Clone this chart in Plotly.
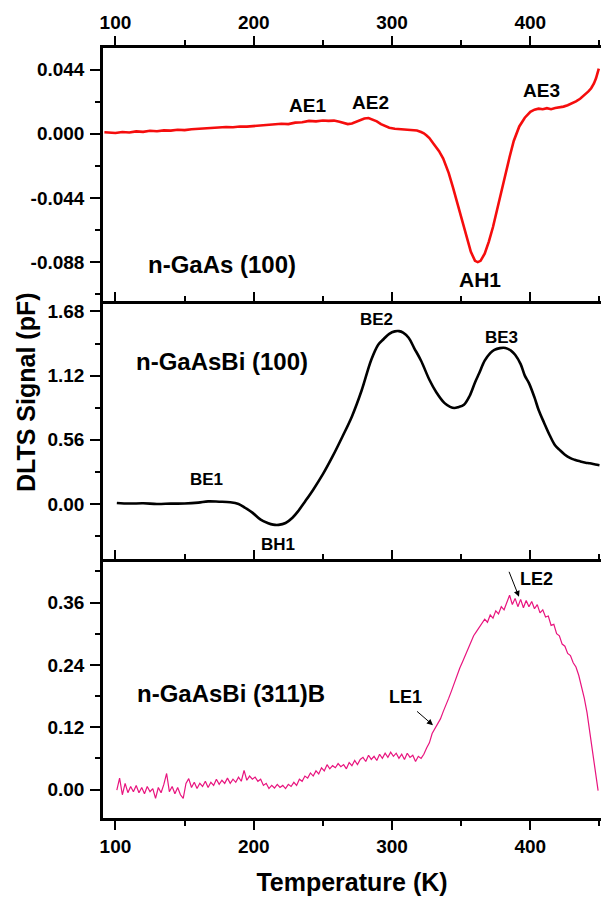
import plotly.graph_objects as go

# ---------------- data ----------------
# Panel 1: n-GaAs (100)
t_gaas = [92, 100, 105, 110, 115, 120, 125, 130, 135, 140, 145, 150, 155, 160, 165, 170, 175, 180,
          185, 190, 195, 200, 205, 210, 215, 220, 225, 230, 235, 240, 245, 250, 254, 258, 262, 265,
          268, 271, 274, 277, 280, 283, 286, 289, 292, 295, 298, 302, 306, 310, 314, 318, 321, 323,
          325, 327, 330, 334, 337, 341, 344, 348, 351, 354, 357, 360, 362, 364, 367, 370, 373, 376,
          379, 382, 385, 388, 392, 396, 400, 403, 406, 409, 412, 415, 418, 421, 424, 427, 430, 433,
          436, 439, 442, 444, 446, 447.5, 448.5, 449.5]
v_gaas = [0.0010, 0.0005, 0.0012, 0.0008, 0.0016, 0.0013, 0.0020, 0.0017, 0.0023, 0.0021, 0.0027,
          0.0025, 0.0031, 0.0034, 0.0036, 0.0041, 0.0039, 0.0046, 0.0044, 0.0050, 0.0049, 0.0053,
          0.0057, 0.0061, 0.0064, 0.0068, 0.0066, 0.0076, 0.0079, 0.0088, 0.0085, 0.0091, 0.0088,
          0.0090, 0.0082, 0.0074, 0.0066, 0.0070, 0.0082, 0.0093, 0.0104, 0.0108, 0.0098, 0.0085,
          0.0066, 0.0052, 0.0041, 0.0034, 0.0031, 0.0030, 0.0027, 0.0022, 0.0012, 0.0003, -0.0012,
          -0.0030, -0.0069, -0.0120, -0.0170, -0.0270, -0.0366, -0.0500, -0.0617, -0.0720, -0.0810,
          -0.0872, -0.0881, -0.0872, -0.0823, -0.0740, -0.0640, -0.0520, -0.0410, -0.0280, -0.0160,
          -0.0050, 0.0050, 0.0110, 0.0150, 0.0165, 0.0172, 0.0168, 0.0175, 0.0168, 0.0176, 0.0180,
          0.0186, 0.0195, 0.0208, 0.0222, 0.0240, 0.0262, 0.0290, 0.0312, 0.0345, 0.0380, 0.0415,
          0.0446]

# Panel 2: n-GaAsBi (100)
t_bi100 = [101, 110, 120, 130, 140, 150, 160, 167, 175, 183, 189, 194, 199, 205, 210, 214, 218, 223,
           228, 232, 237, 243, 250, 257, 264, 271, 278, 285, 290, 294, 298, 302, 305, 308, 312, 316,
           321, 327, 332, 338, 342, 345, 348, 352, 356, 360, 363, 367, 371, 374, 378, 382, 386, 389,
           393, 396, 399, 403, 406, 410, 414, 418, 421, 425, 429, 432, 436, 440, 443, 447, 450]
v_bi100 = [0.009, 0.004, 0.006, 0.000, 0.003, 0.004, 0.012, 0.023, 0.020, 0.015, 0.000, -0.035,
           -0.075, -0.137, -0.165, -0.180, -0.182, -0.166, -0.120, -0.064, 0.020, 0.125, 0.260,
           0.415, 0.585, 0.764, 0.990, 1.259, 1.390, 1.440, 1.485, 1.506, 1.508, 1.495, 1.450,
           1.361, 1.250, 1.084, 0.975, 0.880, 0.848, 0.837, 0.845, 0.866, 0.940, 1.060, 1.140,
           1.250, 1.317, 1.345, 1.360, 1.361, 1.338, 1.302, 1.220, 1.120, 1.055, 0.930, 0.820,
           0.707, 0.600, 0.510, 0.474, 0.430, 0.400, 0.386, 0.372, 0.360, 0.355, 0.345, 0.338]

# Panel 3: n-GaAsBi (311)B  (T = 101, 103, ..., 449 K)
t_bi311 = list(range(101, 450, 2))
v_bi311 = [-0.001, 0.022, -0.010, 0.012, -0.006, 0.006, -0.004, 0.008, -0.006, 0.004,
           -0.008, 0.006, -0.004, 0.002, -0.017, 0.004, -0.006, 0.010, 0.031, -0.004,
           0.006, -0.008, 0.004, -0.010, -0.017, 0.012, 0.021, 0.004, 0.014, 0.002,
           0.012, 0.006, 0.016, 0.004, 0.014, 0.008, 0.020, 0.010, 0.018, 0.012,
           0.022, 0.012, 0.020, 0.014, 0.024, 0.016, 0.037, 0.018, 0.026, 0.020,
           0.024, 0.016, 0.020, 0.008, 0.012, 0.002, 0.008, 0.003, 0.010, 0.004,
           0.008, 0.002, 0.010, 0.006, 0.014, 0.008, 0.020, 0.016, 0.026, 0.022,
           0.032, 0.026, 0.036, 0.030, 0.042, 0.036, 0.048, 0.040, 0.046, 0.042,
           0.050, 0.044, 0.048, 0.040, 0.052, 0.046, 0.056, 0.048, 0.058, 0.062,
           0.054, 0.066, 0.058, 0.064, 0.056, 0.068, 0.060, 0.070, 0.062, 0.072,
           0.064, 0.070, 0.060, 0.068, 0.058, 0.070, 0.062, 0.066, 0.054, 0.064,
           0.060, 0.068, 0.080, 0.090, 0.108, 0.118, 0.128, 0.136, 0.150, 0.162,
           0.176, 0.190, 0.206, 0.218, 0.234, 0.246, 0.258, 0.270, 0.284, 0.296,
           0.304, 0.312, 0.318, 0.328, 0.322, 0.336, 0.330, 0.344, 0.338, 0.352,
           0.346, 0.362, 0.374, 0.356, 0.368, 0.352, 0.366, 0.350, 0.364, 0.352,
           0.362, 0.348, 0.356, 0.340, 0.346, 0.332, 0.334, 0.316, 0.318, 0.300,
           0.296, 0.280, 0.276, 0.262, 0.258, 0.244, 0.236, 0.220, 0.200, 0.176,
           0.148, 0.112, 0.072, 0.036, -0.002]

# tick values / labels
x_ticks = [100, 200, 300, 400]
x_minor = [150, 250, 350, 450]
y1_ticks = [-0.088, -0.044, 0.0, 0.044]
y1_text = ["-0.088", "-0.044", "0.000", "0.044"]
y1_minor = [-0.110, -0.066, -0.022, 0.022]
y2_ticks = [0.0, 0.56, 1.12, 1.68]
y2_text = ["0.00", "0.56", "1.12", "1.68"]
y2_minor = [-0.28, 0.28, 0.84, 1.40]
y3_ticks = [0.0, 0.12, 0.24, 0.36]
y3_text = ["0.00", "0.12", "0.24", "0.36"]
y3_minor = [0.06, 0.18, 0.30, 0.42]

panel_names = ["n-GaAs (100)", "n-GaAsBi (100)", "n-GaAsBi (311)B"]

# ---------------- figure ----------------
FONT = "Liberation Sans, Arial, sans-serif"
RED = "#f50d0d"
PINK = "#e8147e"

fig = go.Figure()
fig.add_trace(go.Scatter(x=t_gaas, y=v_gaas, mode="lines", line=dict(color=RED, width=2.6),
                         xaxis="x", yaxis="y", showlegend=False))
fig.add_trace(go.Scatter(x=t_bi100, y=v_bi100, mode="lines", line=dict(color="black", width=2.6, shape="spline"),
                         xaxis="x2", yaxis="y2", showlegend=False))
fig.add_trace(go.Scatter(x=t_bi311, y=v_bi311, mode="lines", line=dict(color=PINK, width=1.2),
                         xaxis="x3", yaxis="y3", showlegend=False))

tickfont = dict(family=FONT, size=19, color="black", weight="bold")
xrange = [91.0, 451.1]

common_x = dict(range=xrange, tickvals=x_ticks, ticks="outside", ticklen=9, tickwidth=2,
                tickcolor="black", showline=True, linewidth=2.5, linecolor="black",
                showgrid=False, zeroline=False, tickfont=tickfont,
                minor=dict(tickvals=x_minor, ticks="outside", ticklen=5, tickwidth=2,
                           tickcolor="black", showgrid=False))
common_y = dict(ticks="outside", ticklen=10, tickwidth=2, tickcolor="black", showline=True,
                linewidth=2.5, linecolor="black", showgrid=False, zeroline=False,
                tickfont=tickfont, ticklabelstandoff=2)

d3 = [0.0, 256 / 770]
d2 = [256 / 770, 514 / 770]
d1 = [514 / 770, 1.0]

fig.update_layout(
    width=601, height=903,
    margin=dict(l=103, r=0, t=48, b=85),
    paper_bgcolor="white", plot_bgcolor="white",
    xaxis=dict(common_x, anchor="y", side="top", mirror=False),
    xaxis2=dict(common_x, anchor="y2", side="top", showticklabels=False, mirror=False),
    xaxis3=dict(common_x, anchor="y3", side="bottom", mirror="ticks",
                title=dict(text="Temperature (K)", font=dict(family=FONT, size=25, color="black", weight="bold"),
                           standoff=18)),
    yaxis=dict(common_y, domain=d1, anchor="x", range=[-0.1168, 0.0588], tickvals=y1_ticks, ticktext=y1_text,
               minor=dict(tickvals=y1_minor, ticks="outside", ticklen=5, tickwidth=2, tickcolor="black")),
    yaxis2=dict(common_y, domain=d2, anchor="x2", range=[-0.506, 1.745], tickvals=y2_ticks, ticktext=y2_text,
                minor=dict(tickvals=y2_minor, ticks="outside", ticklen=5, tickwidth=2, tickcolor="black")),
    yaxis3=dict(common_y, domain=d3, anchor="x3", range=[-0.0547, 0.438], tickvals=y3_ticks, ticktext=y3_text,
                minor=dict(tickvals=y3_minor, ticks="outside", ticklen=5, tickwidth=2, tickcolor="black")),
)

def lab(text, x, y, xr, yr, size, xanchor="center"):
    fig.add_annotation(text=text, x=x, y=y, xref=xr, yref=yr, showarrow=False,
                       xanchor=xanchor, yanchor="middle",
                       font=dict(family=FONT, size=size, color="black", weight="bold"))

# panel names
lab(panel_names[0], 122.4, -0.0894, "x", "y", 24, "left")
lab(panel_names[1], 113.2, 1.24, "x2", "y2", 24, "left")
lab(panel_names[2], 113.9, 0.185, "x3", "y3", 24, "left")

# peak labels
lab("AE1", 239, 0.0194, "x", "y", 19)
lab("AE2", 284.6, 0.0215, "x", "y", 19)
lab("AE3", 408, 0.0297, "x", "y", 19)
lab("AH1", 363.4, -0.0999, "x", "y", 21)
lab("BE1", 166, 0.212, "x2", "y2", 17)
lab("BH1", 217.2, -0.349, "x2", "y2", 17)
lab("BE2", 288.7, 1.608, "x2", "y2", 17)
lab("BE3", 379.3, 1.453, "x2", "y2", 17)
lab("LE1", 310, 0.178, "x3", "y3", 18)
lab("LE2", 404.2, 0.4045, "x3", "y3", 18)

# arrows
for (hx, hy, tx, ty) in [(329.6, 0.124, 317, 0.153), (391.8, 0.371, 384.2, 0.422)]:
    fig.add_annotation(text="", x=hx, y=hy, ax=tx, ay=ty, xref="x3", yref="y3",
                       axref="x3", ayref="y3", showarrow=True, arrowhead=2, arrowsize=1.2,
                       arrowwidth=1, arrowcolor="black")

# shared y-axis title
fig.add_annotation(text="DLTS Signal (pF)", textangle=-90, x=(26 - 103) / 498, y=(818 - 392) / 770,
                   xref="paper", yref="paper", showarrow=False, xanchor="center", yanchor="middle",
                   font=dict(family=FONT, size=25, color="black", weight="bold"))

fig.write_html("out.html")
